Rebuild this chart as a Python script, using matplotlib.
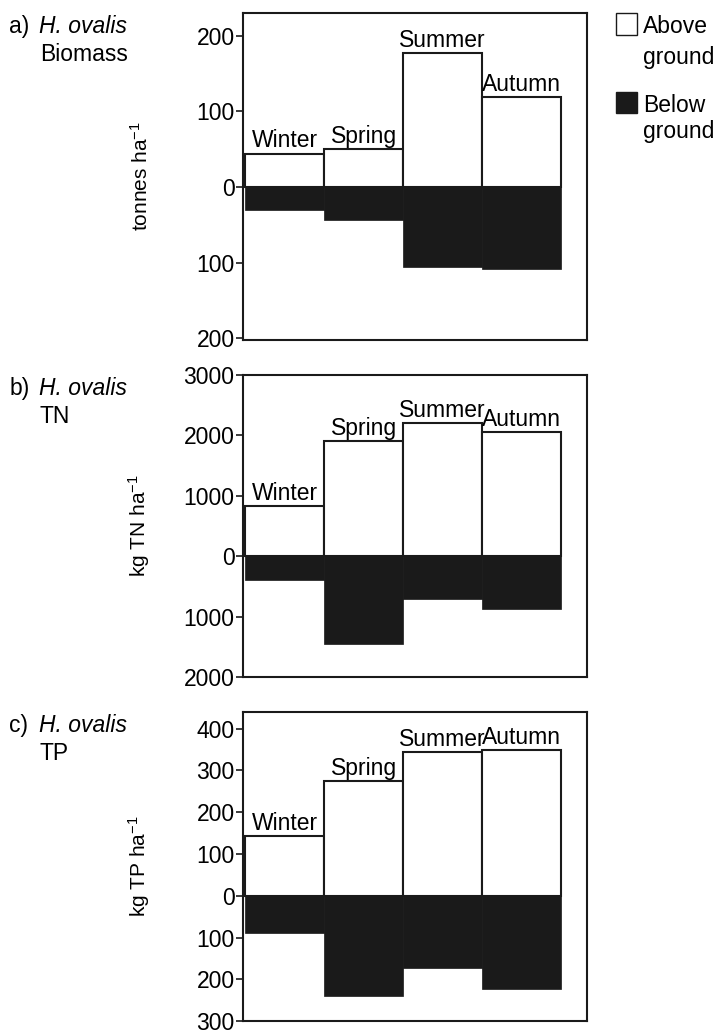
import numpy as np
import matplotlib
matplotlib.use("Agg")
import matplotlib.pyplot as plt
from matplotlib.ticker import FuncFormatter
from matplotlib.patches import Rectangle

# === DONNEES ===
seasons = ["Winter", "Spring", "Summer", "Autumn"]

biomass_above = [44, 50, 177, 119]
biomass_below = [30, 44, 106, 108]

tn_above = [830, 1905, 2205, 2055]
tn_below = [400, 1460, 710, 880]

tp_above = [143, 274, 344, 349]
tp_below = [90, 240, 172, 224]

panel_titles = ["a)", "b)", "c)"]
panel_sub = ["Biomass", "TN", "TP"]
ylabels = ["tonnes ha$^{-1}$", "kg TN ha$^{-1}$", "kg TP ha$^{-1}$"]
yticks = [[200, 100, 0, -100, -200],
          [3000, 2000, 1000, 0, -1000, -2000],
          [400, 300, 200, 100, 0, -100, -200, -300]]
ylims = [(-202, 230), (-2000, 3000), (-300, 440)]

# === STYLE ===
plt.rcParams["font.family"] = ["Liberation Sans", "DejaVu Sans"]
plt.rcParams["mathtext.fontset"] = "custom"
plt.rcParams["mathtext.rm"] = "Liberation Sans"
plt.rcParams["mathtext.it"] = "Liberation Sans:italic"

dark = "#1a1a1a"
fs = 16.5
fig = plt.figure(figsize=(7.25, 10.35), dpi=100)

# positions des axes (fraction de la figure)
boxes = [[0.335, 0.6715, 0.474, 0.316],
         [0.335, 0.3459, 0.474, 0.2918],
         [0.335, 0.0135, 0.474, 0.2986]]

data = [(biomass_above, biomass_below),
        (tn_above, tn_below),
        (tp_above, tp_below)]

x = np.arange(len(seasons))
for i, (above, below) in enumerate(data):
    ax = fig.add_axes(boxes[i])
    ax.bar(x, above, width=1.0, align="edge", color="white",
           edgecolor=dark, linewidth=1.5, zorder=2)
    ax.bar(x, -np.array(below), width=1.0, align="edge", color=dark,
           edgecolor=dark, linewidth=0.5, zorder=3)
    for xi, val, name in zip(x, above, seasons):
        ax.annotate(name, (xi + 0.5, val), xytext=(0, 1),
                    textcoords="offset points", ha="center", va="bottom",
                    fontsize=fs)
    ax.set_xlim(-0.03, 4.32)
    ax.set_ylim(*ylims[i])
    ax.set_xticks([])
    ax.set_yticks(yticks[i])
    ax.yaxis.set_major_formatter(FuncFormatter(lambda v, p: f"{abs(int(v))}"))
    ax.tick_params(axis="y", direction="out", length=5, width=1.2,
                   labelsize=fs, pad=1, color=dark)
    for s in ax.spines.values():
        s.set_linewidth(1.5)
        s.set_color(dark)
    ax.set_ylabel(ylabels[i], fontsize=15)
    ax.yaxis.set_label_coords(-0.265, 0.5)

    # titre du panneau
    top = boxes[i][1] + boxes[i][3]
    fig.text(0.013, top - 0.0135, panel_titles[i], fontsize=fs,
             ha="left", va="center")
    fig.text(0.054, top - 0.0135, "H. ovalis", fontsize=fs, style="italic",
             ha="left", va="center")
    fig.text(0.055, top - 0.0405, panel_sub[i], fontsize=fs,
             ha="left", va="center")

# === LEGENDE ===
fig.patches.append(Rectangle((0.850, 0.9665), 0.029, 0.0205,
                             transform=fig.transFigure, facecolor="white",
                             edgecolor=dark, linewidth=1.0))
fig.text(0.887, 0.974, "Above", fontsize=fs, va="center")
fig.text(0.887, 0.944, "ground", fontsize=fs, va="center")
fig.patches.append(Rectangle((0.850, 0.8905), 0.029, 0.0205,
                             transform=fig.transFigure, facecolor=dark,
                             edgecolor=dark, linewidth=1.0))
fig.text(0.887, 0.8985, "Below", fontsize=fs, va="center")
fig.text(0.887, 0.8725, "ground", fontsize=fs, va="center")

fig.savefig("out.png", dpi=100)
